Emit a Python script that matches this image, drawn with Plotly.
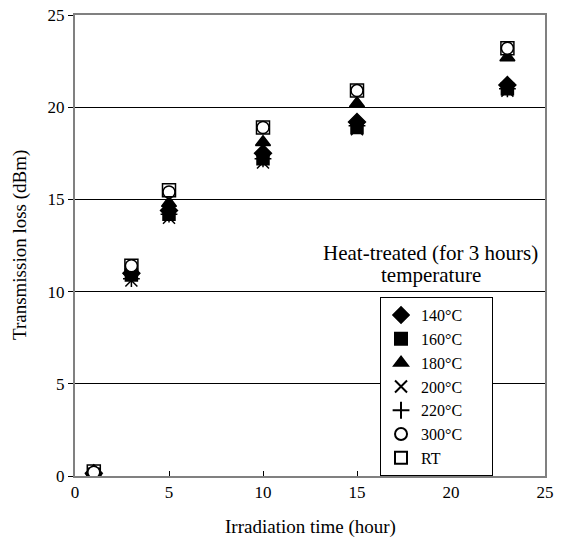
import plotly.graph_objects as go

hours = [1, 3, 5, 10, 15, 23]
series_names = ["140°C", "160°C", "180°C", "200°C", "220°C", "300°C", "RT"]
loss_140 = [0.15, 11.0, 14.4, 17.5, 19.2, 21.2]
loss_160 = [0.10, 10.9, 14.2, 17.2, 18.9, 21.0]
loss_180 = [0.20, 11.1, 14.8, 18.1, 20.2, 22.7]
loss_200 = [0.05, 10.6, 14.0, 17.0, 18.8, 20.9]
loss_220 = [0.10, 10.7, 14.2, 17.2, 19.0, 21.0]
loss_300 = [0.20, 11.4, 15.4, 18.9, 20.9, 23.2]
loss_rt = [0.25, 11.4, 15.5, 18.9, 20.9, 23.2]

series_values = [loss_140, loss_160, loss_180, loss_200, loss_220, loss_300, loss_rt]
symbols = ["diamond", "square", "triangle-up", "x-thin-open", "cross-thin-open", "circle", "square-open"]
fills = ["black", "black", "black", "black", "black", "white", "black"]
sizes = [13, 12, 13, 12, 12, 12, 13]

FONT = "Liberation Serif, Times New Roman, serif"
PAD = "\u00a0" * 6  # widen the legend box like the reference

fig = go.Figure()
for name, vals, sym, fc, sz in zip(series_names, series_values, symbols, fills, sizes):
    fig.add_trace(go.Scatter(
        x=hours, y=vals, mode="markers", name=name + PAD,
        marker=dict(symbol=sym, size=sz, color=fc,
                    line=dict(color="black", width=1.5)),
    ))

fig.update_layout(
    width=564, height=540,
    margin=dict(l=75, r=19, t=15, b=64, autoexpand=False),
    paper_bgcolor="white", plot_bgcolor="white",
    font=dict(family=FONT, size=17, color="black"),
    showlegend=True,
    legend=dict(
        x=0.649, y=0.388, xanchor="left", yanchor="top",
        bordercolor="black", borderwidth=1, bgcolor="white",
        font=dict(family=FONT, size=16, color="black"),
        itemwidth=30, tracegroupgap=0, itemsizing="constant",
    ),
    xaxis=dict(
        range=[0, 25], tickvals=[0, 5, 10, 15, 20, 25],
        ticks="inside", ticklen=5, tickcolor="black",
        showline=True, linecolor="#808080", linewidth=2, mirror=True,
        showgrid=False, zeroline=False, automargin=False,
        ticklabeloverflow="allow",
        tickfont=dict(family=FONT, size=17),
    ),
    yaxis=dict(
        range=[0, 25], tickvals=[0, 5, 10, 15, 20, 25],
        ticks="outside", ticklen=5, tickcolor="black",
        showline=True, linecolor="#808080", linewidth=2, mirror=True,
        showgrid=True, gridcolor="black", gridwidth=1, zeroline=False,
        automargin=False, ticklabeloverflow="allow",
        tickfont=dict(family=FONT, size=17),
    ),
)

fig.add_annotation(
    xref="paper", yref="paper", x=0.5, y=-0.082, xanchor="center", yanchor="top",
    text="Irradiation time (hour)", showarrow=False,
    font=dict(family=FONT, size=19, color="black"),
)
fig.add_annotation(
    xref="paper", yref="paper", x=-0.118, y=0.5, xanchor="center", yanchor="middle",
    text="Transmission loss (dBm)", showarrow=False, textangle=-90,
    font=dict(family=FONT, size=19, color="black"),
)
fig.add_annotation(
    xref="paper", yref="paper", x=0.757, y=0.4837, xanchor="center", yanchor="middle",
    text="Heat-treated (for 3 hours)", showarrow=False,
    font=dict(family=FONT, size=21, color="black"),
)
fig.add_annotation(
    xref="paper", yref="paper", x=0.757, y=0.436, xanchor="center", yanchor="middle",
    text="temperature", showarrow=False,
    font=dict(family=FONT, size=21, color="black"),
)

fig.write_html("out.html", config={"displayModeBar": False},
               post_script="document.body.style.margin='0px';")
